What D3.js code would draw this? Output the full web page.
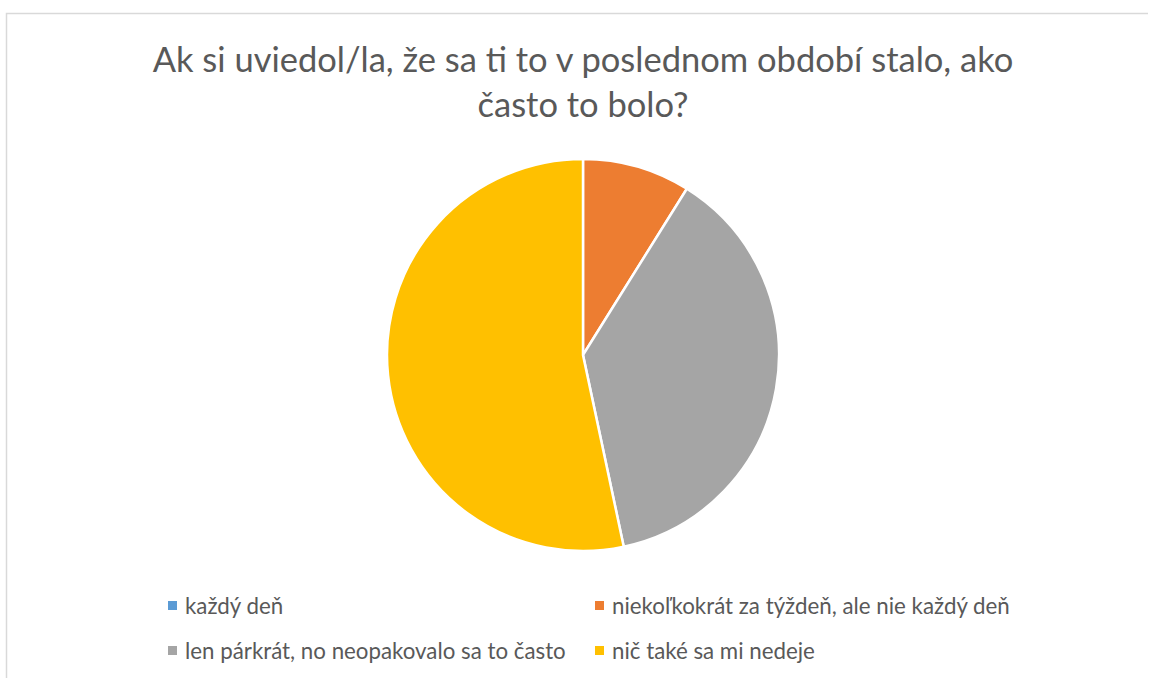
<!DOCTYPE html>
<html>
<head>
<meta charset="utf-8">
<script src="https://cdn.jsdelivr.net/npm/d3@7"></script>
<style>
	body { margin: 0; background: #fff; }
	svg { display: block; }
</style>
</head>
<body>
<svg id="pie"></svg>
<script>
let categories = [
	'každý deň',
	'niekoľkokrát za týždeň, ale nie každý deň',
	'len párkrát, no neopakovalo sa to často',
	'nič také sa mi nedeje'
];
let values = [0, 4, 17, 24];
let colors = ['#5B9BD5', '#ED7D31', '#A5A5A5', '#FFC000'];
let titleLines = ['Ak si uviedol/la, že sa ti to v poslednom období stalo, ako', 'často to bolo?'];

function makeChart() {
	let w = 1149;
	let h = 678;
	let cx = 583;
	let cy = 355;
	let r = 196;

	let svg = d3.select('#pie')
		.attr('width', w)
		.attr('height', h);

	// chart border (bottom runs off the picture)
	svg.append('path')
		.attr('d', 'M6.5,' + h + 'V13.5H' + (w - 1))
		.attr('fill', 'none')
		.attr('stroke', '#d9d9d9')
		.attr('stroke-width', 1.5);

	svg.selectAll('text.title')
		.data(titleLines)
		.enter()
		.append('text')
		.attr('class', 'title')
		.attr('x', 583)
		.attr('y', (d, i) => 72 + i * 45)
		.attr('text-anchor', 'middle')
		.style('font-family', 'Lato, sans-serif')
		.style('font-size', '34.5px')
		.style('fill', '#595959')
		.text(d => d);

	let pie = d3.pie().sort(null).value(d => d);
	let arc = d3.arc().innerRadius(0).outerRadius(r);

	svg.append('g')
		.attr('transform', 'translate(' + cx + ',' + cy + ')')
		.selectAll('path')
		.data(pie(values))
		.enter()
		.append('path')
		.attr('d', arc)
		.attr('fill', (d, i) => colors[i])
		.attr('stroke', '#fff')
		.attr('stroke-width', 2.5);

	let legendX = [168, 595];
	let legendY = [606, 651];
	let items = svg.selectAll('g.legend')
		.data(categories)
		.enter()
		.append('g')
		.attr('class', 'legend')
		.attr('transform', (d, i) => 'translate(' + legendX[i % 2] + ',' + legendY[Math.floor(i / 2)] + ')');

	items.append('rect')
		.attr('x', 0)
		.attr('y', -5)
		.attr('width', 9)
		.attr('height', 9)
		.attr('fill', (d, i) => colors[i]);

	items.append('text')
		.attr('x', 17)
		.attr('y', 7.5)
		.style('font-family', 'Lato, sans-serif')
		.style('font-size', '22.3px')
		.style('fill', '#595959')
		.text(d => d);
}

window.onload = function () {
	makeChart();
}
</script>
</body>
</html>
